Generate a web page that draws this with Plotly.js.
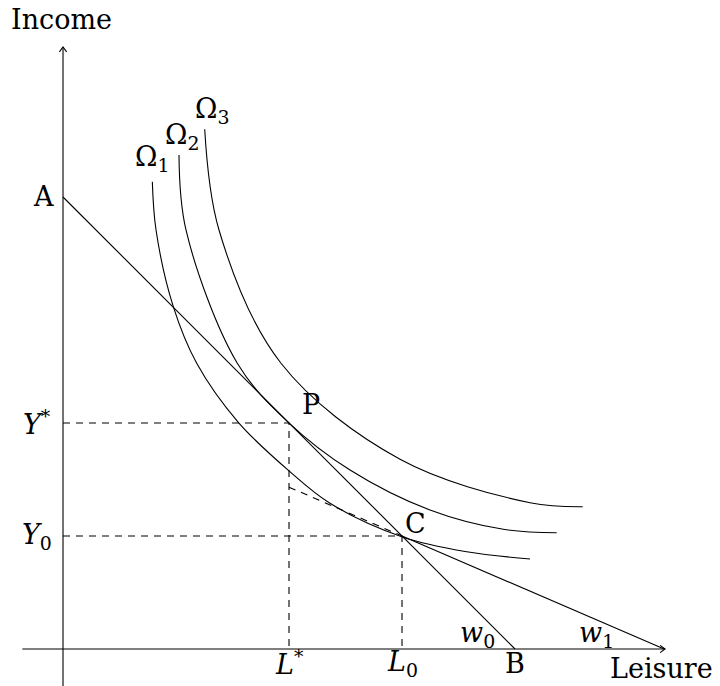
<!DOCTYPE html>
<html><head><meta charset="utf-8">
<script src="https://cdn.plot.ly/plotly-3.0.1.min.js"></script>
<style>html,body{margin:0;padding:0;background:#fff}#chart{width:720px;height:686px}</style>
</head><body><div id="chart"></div>
<script>
// Indifference curves
const omega1X = [1.976, 2.058, 2.440, 2.958, 3.878, 5.000, 5.907, 7.493, 8.931, 10.332];
const omega1Y = [10.339, 9.270, 7.573, 6.321, 5.015, 3.940, 3.223, 2.485, 2.153, 1.991];
const omega2X = [2.566, 2.721, 3.856, 4.985, 6.350, 8.119, 9.741, 10.922];
const omega2Y = [10.929, 9.270, 6.321, 5.015, 3.960, 3.075, 2.648, 2.573];
const omega3X = [3.135, 3.451, 4.823, 7.456, 10.332, 11.498];
const omega3Y = [11.498, 9.270, 6.321, 4.197, 3.237, 3.148];

// Budget lines
const pointA = [0, 10];
const pointB = [10, 0];
const pointP = [5, 5];
const pointC = [7.5, 2.5];
const w1End = [13.3, 0];
const w1DashStart = [5, 3.58];

// Axes extents
const xAxisSpan = [-0.9, 13.32];
const yAxisSpan = [-0.9, 13.32];

// Labels
const curveLabels = ["Ω<sub>1</sub>", "Ω<sub>2</sub>", "Ω<sub>3</sub>"];
const curveLabelPos = [[1.97, 10.86], [2.63, 11.33], [3.30, 11.92]];

const K = {color: '#000', width: 1.1};
const D = {color: '#000', width: 1.1, dash: '7px,6px'};
function ln(x, y, line, extra) {
  return Object.assign({x: x, y: y, mode: 'lines', line: line, hoverinfo: 'skip'}, extra || {});
}
const sp = {color: '#000', width: 1.1, shape: 'spline', smoothing: 1};
const ax = 0.11, ah = 0.08;
const traces = [
  // axes
  ln(xAxisSpan, [0, 0], K),
  ln([0, 0], yAxisSpan, K),
  ln([xAxisSpan[1] - ax, xAxisSpan[1], xAxisSpan[1] - ax], [ah, 0, -ah], K),
  ln([-ah, 0, ah], [yAxisSpan[1] - ax, yAxisSpan[1], yAxisSpan[1] - ax], K),
  // dashed guides
  ln([0, pointP[0], pointP[0]], [pointP[1], pointP[1], 0], D),
  ln([0, pointC[0], pointC[0]], [pointC[1], pointC[1], 0], D),
  ln([w1DashStart[0], pointC[0]], [w1DashStart[1], pointC[1]], D),
  // budget lines
  ln([pointA[0], pointB[0]], [pointA[1], pointB[1]], K),
  ln([pointC[0], w1End[0]], [pointC[1], w1End[1]], K),
  // indifference curves
  ln(omega1X, omega1Y, sp),
  ln(omega2X, omega2Y, sp),
  ln(omega3X, omega3Y, sp)
];

const F = 27;
function lab(text, x, y, xa, ya, size) {
  return {text: text, x: x, y: y, xref: 'x', yref: 'y', showarrow: false,
    xanchor: xa || 'center', yanchor: ya || 'middle', font: {size: size || F, color: '#000'}};
}
const annotations = [
  lab('Income', -0.04, 13.92),
  lab('Leisure', 14.42, -0.815, 'right', 'bottom'),
  lab('A', -0.44, 10.0),
  lab('<i>Y</i><sup>*</sup>', -0.58, 5.02),
  lab('<i>Y</i><sub>0</sub>', -0.58, 2.48),
  lab('<i>L</i><sup>*</sup>', 5.0, -0.3),
  lab('<i>L</i><sub>0</sub>', 7.52, -0.32),
  lab('B', 10.0, -0.33),
  lab('P', 5.49, 5.40),
  lab('C', 7.79, 2.77),
  lab('<i>w</i><sub>0</sub>', 9.18, 0.33),
  lab('<i>w</i><sub>1</sub>', 11.81, 0.33)
];
curveLabels.forEach((t, i) => annotations.push(lab(t, curveLabelPos[i][0], curveLabelPos[i][1])));

const layout = {
  width: 720, height: 686,
  margin: {l: 0, r: 0, t: 0, b: 0},
  paper_bgcolor: '#fff', plot_bgcolor: '#fff',
  showlegend: false,
  font: {family: 'DejaVu Serif', size: F, color: '#000'},
  xaxis: {visible: false, range: [-1.394, 14.535], fixedrange: true},
  yaxis: {visible: false, range: [-0.8186, 14.358], fixedrange: true},
  annotations: annotations
};
Plotly.newPlot('chart', traces, layout, {staticPlot: true});
</script>
</body></html>
